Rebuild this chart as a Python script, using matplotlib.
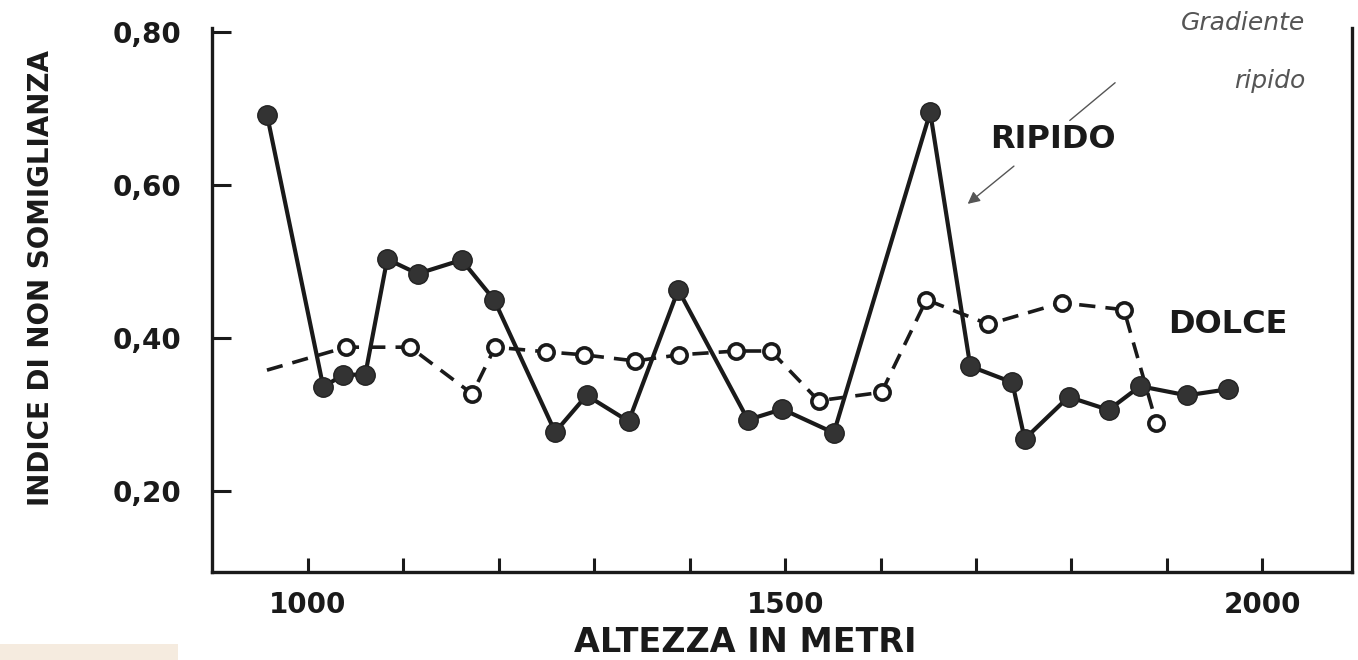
import numpy as np
import matplotlib
matplotlib.use('Agg')
import matplotlib.pyplot as plt
from matplotlib.patches import Rectangle

# altitude (m) and dissimilarity index
ripido_x = [957, 1016, 1037, 1060, 1083, 1115, 1161, 1195, 1259, 1292, 1336, 1388,
            1461, 1497, 1551, 1652, 1694, 1738, 1751, 1797, 1839, 1872, 1921, 1964]
ripido_y = [0.692, 0.336, 0.352, 0.352, 0.503, 0.484, 0.502, 0.450, 0.277, 0.325, 0.291, 0.463,
            0.293, 0.307, 0.276, 0.695, 0.363, 0.342, 0.268, 0.323, 0.306, 0.337, 0.325, 0.333]

dolce_x = [957, 1040, 1107, 1172, 1196, 1249, 1289, 1343, 1389, 1449, 1485,
           1535, 1601, 1648, 1713, 1790, 1855, 1889]
dolce_y = [0.358, 0.388, 0.388, 0.327, 0.388, 0.382, 0.378, 0.370, 0.378, 0.383, 0.383,
           0.318, 0.329, 0.450, 0.418, 0.446, 0.437, 0.289]

y_ticks = [0.20, 0.40, 0.60, 0.80]
y_labels = ['0,20', '0,40', '0,60', '0,80']
x_ticks = [1000, 1100, 1200, 1300, 1400, 1500, 1600, 1700, 1800, 1900, 2000]
x_labels = ['1000', '', '', '', '', '1500', '', '', '', '', '2000']

ink = '#1a1a1a'
grey = '#555555'

fig = plt.figure(figsize=(13.58, 6.60), dpi=100)
ax = fig.add_axes([212/1358, 1-572/660, (1352-212)/1358, (572-28)/660])

# dolce: dashed, open circles (first point has no marker)
ax.plot(dolce_x, dolce_y, color=ink, lw=2.6, ls=(0, (4.5, 2.8)), zorder=2)
ax.plot(dolce_x[1:], dolce_y[1:], ls='none', marker='o', ms=11, mfc='white',
        mec=ink, mew=2.6, zorder=3)

# ripido: solid, filled circles
ax.plot(ripido_x, ripido_y, color=ink, lw=3.0, marker='o', ms=14,
        mfc='#333333', mec='#222222', mew=1.0, zorder=4)

ax.set_xlim(899.4, 2094)
ax.set_ylim(0.80 - (572-32)/765, 0.80 + 4/765)

ax.spines['top'].set_visible(False)
for s in ['left', 'bottom', 'right']:
    ax.spines[s].set_linewidth(2.4)
    ax.spines[s].set_color(ink)

ax.set_yticks(y_ticks)
ax.set_yticklabels(y_labels, fontsize=20, fontweight='bold', color=ink)
ax.set_xticks(x_ticks)
ax.set_xticklabels(x_labels, fontsize=20, fontweight='bold', color=ink)
ax.tick_params(axis='y', direction='in', length=14, width=2.2, pad=22, color=ink)
ax.tick_params(axis='x', direction='in', length=10, width=2.2, pad=14, color=ink)

ax.set_ylabel('INDICE DI NON SOMIGLIANZA', fontsize=20, fontweight='bold', color=ink)
ax.yaxis.set_label_coords(-0.1377, 0.540)
ax.set_xlabel('ALTEZZA IN METRI', fontsize=24, fontweight='bold', color=ink)
ax.xaxis.set_label_coords(0.468, -0.100)

ax.text(1781, 0.660, 'RIPIDO', fontsize=23, fontweight='bold', color=ink,
        ha='center', va='center')
ax.text(1964, 0.417, 'DOLCE', fontsize=23, fontweight='bold', color=ink,
        ha='center', va='center')

# overlay notes
ax.text(2045, 0.812, 'Gradiente', fontsize=18, style='italic', color=grey,
        ha='right', va='center', clip_on=False)
ax.text(2045, 0.736, 'ripido', fontsize=18, style='italic', color=grey,
        ha='right', va='center', clip_on=False)
ax.annotate('', xy=(1796, 0.682), xytext=(1848, 0.736),
            arrowprops=dict(arrowstyle='-', color=grey, lw=1.0))
ax.annotate('', xy=(1689, 0.573), xytext=(1742, 0.627),
            arrowprops=dict(arrowstyle='-|>', color=grey, lw=1.0,
                            mutation_scale=18))

fig.patches.append(Rectangle((0, 0), 178/1358, 16/660, transform=fig.transFigure,
                             facecolor='#f5ebdf', edgecolor='none'))

fig.savefig('out.png', dpi=100)
